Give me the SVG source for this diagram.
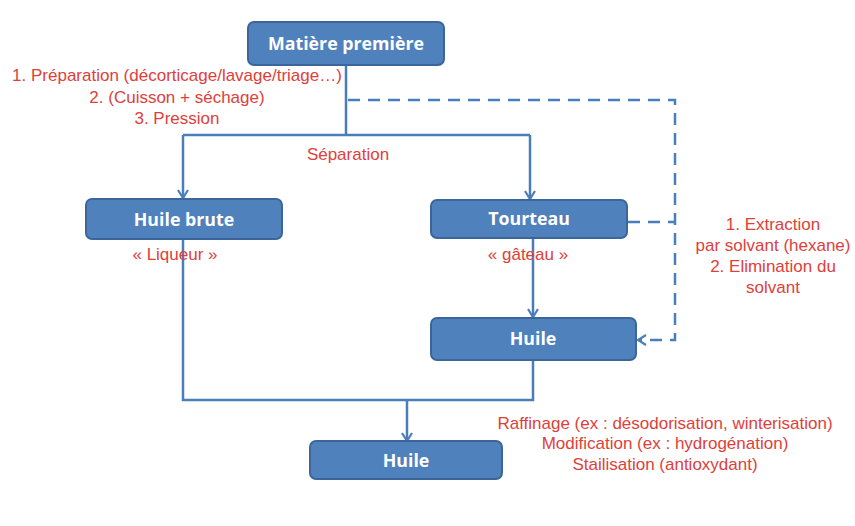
<svg xmlns="http://www.w3.org/2000/svg" width="855" height="526" viewBox="0 0 855 526">
<defs>
<style>
.box{fill:#4F81BD;stroke:#3B6699;stroke-width:2}
.lbl{fill:#fff;font-family:"Open Sans","Liberation Sans",sans-serif;font-weight:bold;font-size:17.8px;text-anchor:middle}
.red{fill:#E0403A;font-family:"Liberation Sans",Arial,sans-serif;font-size:17px;text-anchor:middle}
.ln{fill:none;stroke:#4A7EBB;stroke-width:2.5}
.dash{fill:none;stroke:#4A7EBB;stroke-width:2.5;stroke-dasharray:12 8}
</style>
<marker id="arr" viewBox="0 0 12 12" refX="10" refY="6" markerWidth="12" markerHeight="12" markerUnits="userSpaceOnUse" orient="auto">
<path d="M2,1 L10,6 L2,11" fill="none" stroke="#4A7EBB" stroke-width="2.2"/>
</marker>
</defs>
<rect width="855" height="526" fill="#fff"/>
<g id="connectors">
<path class="ln" d="M346,65 V135"/>
<path class="ln" d="M183,135 H530"/>
<path class="ln" d="M183,135 V198" marker-end="url(#arr)"/>
<path class="ln" d="M530,135 V199" marker-end="url(#arr)"/>
<path class="ln" d="M533,238 V317" marker-end="url(#arr)"/>
<path class="ln" d="M183,239 V400 H533 V360"/>
<path class="ln" d="M407,400 V441" marker-end="url(#arr)"/>
<path class="dash" d="M348,100 H675 V340 H638" marker-end="url(#arr)"/>
<path class="dash" d="M628,222 H675"/>
</g>
<g id="n-matiere">
<rect class="box" x="248" y="22" width="196" height="43" rx="6"/>
<text class="lbl" x="346" y="50">Matière première</text>
</g>
<g id="n-huile-brute">
<rect class="box" x="86" y="199" width="196" height="40" rx="6"/>
<text class="lbl" x="184" y="226">Huile brute</text>
</g>
<g id="n-tourteau">
<rect class="box" x="431" y="200" width="196" height="38" rx="6"/>
<text class="lbl" x="529" y="225">Tourteau</text>
</g>
<g id="n-huile-mid">
<rect class="box" x="431" y="318" width="205" height="42" rx="6"/>
<text class="lbl" x="533" y="345">Huile</text>
</g>
<g id="n-huile-final">
<rect class="box" x="310" y="441" width="192" height="38" rx="6"/>
<text class="lbl" x="406" y="467">Huile</text>
</g>
<g id="labels">
<text class="red" x="177" y="81">1. Préparation (décorticage/lavage/triage…)</text>
<text class="red" x="177" y="103">2. (Cuisson + séchage)</text>
<text class="red" x="177" y="124">3. Pression</text>
<text class="red" x="348" y="160">Séparation</text>
<text class="red" x="175" y="260">« Liqueur »</text>
<text class="red" x="528" y="260">« gâteau »</text>
<text class="red" x="773" y="230">1. Extraction</text>
<text class="red" x="773" y="251">par solvant (hexane)</text>
<text class="red" x="773" y="272">2. Elimination du</text>
<text class="red" x="773" y="293">solvant</text>
<text class="red" x="665" y="429">Raffinage (ex : désodorisation, winterisation)</text>
<text class="red" x="665" y="449">Modification (ex : hydrogénation)</text>
<text class="red" x="665" y="470">Stailisation (antioxydant)</text>
</g>
</svg>
